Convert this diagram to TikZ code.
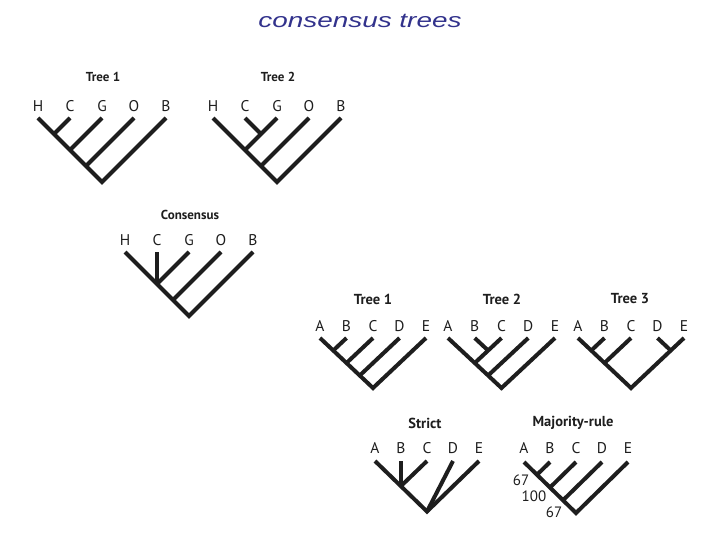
\documentclass[tikz,border=0pt]{standalone}
\usepackage{fontspec}
\setmainfont{PT Sans}
\newfontfamily\titlefont{Liberation Sans}
\definecolor{titleblue}{RGB}{50,50,140}
\definecolor{ink}{RGB}{30,30,30}
\tikzset{
  br/.style={draw=ink, line width=4pt, line cap=butt, line join=miter},
  lab/.style={text=ink, font=\fontsize{15.5}{17}\selectfont, inner sep=0pt},
  ttl/.style={text=ink, font=\bfseries\fontsize{13}{15}\selectfont, inner sep=0pt},
  ttlb/.style={text=ink, font=\bfseries\fontsize{14.5}{16}\selectfont, inner sep=0pt},
  num/.style={text=ink, font=\fontsize{15}{17}\selectfont, inner sep=0pt},
}
\begin{document}
\begin{tikzpicture}[x=1pt,y=-1pt]
\useasboundingbox (0,0) rectangle (720,540);
\fill[white] (0,0) rectangle (720,540);
% main title
\node[text=titleblue, inner sep=0pt, xscale=1.36] (title) at (360,21) {\titlefont\itshape\fontsize{20.5}{24}\selectfont consensus trees};

% ---------- Top Tree 1 ----------
\node[ttl] (aT) at (103,77) {Tree 1};
\foreach \n/\x in {H/38,C/70,G/102,O/134,B/166}{
  \node[lab] (aL\n) at (\x,106) {\n};
  \coordinate (a\n) at (\x,118);
}
\coordinate (a1) at (54,134);
\coordinate (a2) at (70,150);
\coordinate (a3) at (86,166);
\coordinate (ar) at (102,182);
\draw[br] (aH) -- (ar) -- (aB);
\draw[br] (aC) -- (a1);
\draw[br] (aG) -- (a2);
\draw[br] (aO) -- (a3);

% ---------- Top Tree 2 ----------
\node[ttl] (bT) at (278,77) {Tree 2};
\foreach \n/\x in {H/213,C/245,G/277,O/309,B/341}{
  \node[lab] (bL\n) at (\x,106) {\n};
  \coordinate (b\n) at (\x,118);
}
\coordinate (b1) at (261,134);
\coordinate (b2) at (245,150);
\coordinate (b3) at (261,166);
\coordinate (br) at (277,182);
\draw[br] (bH) -- (br) -- (bB);
\draw[br] (bC) -- (b1);
\draw[br] (bG) -- (b2);
\draw[br] (bO) -- (b3);

% ---------- Consensus ----------
\node[ttl] (cT) at (190,215) {Consensus};
\foreach \n/\x in {H/125,C/157,G/189,O/221,B/253}{
  \node[lab] (cL\n) at (\x,240) {\n};
  \coordinate (c\n) at (\x,252);
}
\coordinate (c1) at (157,284);
\coordinate (c2) at (173,300);
\coordinate (cr) at (189,316);
\draw[br] (cH) -- (cr) -- (cB);
\draw[br] (cC) -- (c1);
\draw[br] (cG) -- (c1);
\draw[br] (cO) -- (c2);

% ---------- Bottom Tree 1 ----------
\node[ttlb] (dT) at (373,299) {Tree 1};
\foreach \n/\x in {A/320,B/346.5,C/373,D/399.5,E/426}{
  \node[lab] (dL\n) at (\x,326) {\n};
  \coordinate (d\n) at (\x,338);
}
\coordinate (d1) at (333.25,350.5);
\coordinate (d2) at (346.5,363);
\coordinate (d3) at (359.75,375.5);
\coordinate (dr) at (373,388);
\draw[br] (dA) -- (dr) -- (dE);
\draw[br] (dB) -- (d1);
\draw[br] (dC) -- (d2);
\draw[br] (dD) -- (d3);

% ---------- Bottom Tree 2 ----------
\node[ttlb] (eT) at (502,299) {Tree 2};
\foreach \n/\x in {A/448,B/474.75,C/501.5,D/528.25,E/555}{
  \node[lab] (eL\n) at (\x,326) {\n};
  \coordinate (e\n) at (\x,338);
}
\coordinate (e1) at (488.1,350.5);
\coordinate (e2) at (474.75,363);
\coordinate (e3) at (488.1,375.5);
\coordinate (er) at (501.5,388);
\draw[br] (eA) -- (er) -- (eE);
\draw[br] (eB) -- (e1);
\draw[br] (eC) -- (e2);
\draw[br] (eD) -- (e3);

% ---------- Bottom Tree 3 ----------
\node[ttlb] (fT) at (630,299) {Tree 3};
\foreach \n/\x in {A/578,B/604.5,C/631,D/657.5,E/684}{
  \node[lab] (fL\n) at (\x,326) {\n};
  \coordinate (f\n) at (\x,338);
}
\coordinate (f1) at (591.25,350.5);
\coordinate (f2) at (604.5,363);
\coordinate (f4) at (670.75,350.5);
\coordinate (fr) at (631,388);
\draw[br] (fA) -- (fr) -- (fE);
\draw[br] (fB) -- (f1);
\draw[br] (fC) -- (f2);
\draw[br] (fD) -- (f4);

% ---------- Strict ----------
\node[ttlb] (gT) at (425,423) {Strict};
\foreach \n/\x in {A/375,B/401,C/427,D/453,E/479}{
  \node[lab] (gL\n) at (\x,448) {\n};
  \coordinate (g\n) at (\x,461);
}
\coordinate (g1) at (401,486);
\coordinate (gr) at (427,511.5);
\draw[br] (gA) -- (gr) -- (gE);
\draw[br] (gB) -- (g1);
\draw[br] (gC) -- (g1);
\draw[br] (gD) -- (gr);

% ---------- Majority-rule ----------
\node[ttlb] (hT) at (573,423) {Majority-rule};
\foreach \n/\x in {A/524,B/550,C/576,D/602,E/628}{
  \node[lab] (hL\n) at (\x,448) {\n};
  \coordinate (h\n) at (\x,462);
}
\coordinate (h1) at (537,474.75);
\coordinate (h2) at (550,487.5);
\coordinate (h3) at (563,500.25);
\coordinate (hr) at (576,513);
\draw[br] (hA) -- (hr) -- (hE);
\draw[br] (hB) -- (h1);
\draw[br] (hC) -- (h2);
\draw[br] (hD) -- (h3);
\node[num] (n1) at (521,480) {67};
\node[num] (n2) at (534,496) {100};
\node[num] (n3) at (554,512) {67};
\end{tikzpicture}
\end{document}
